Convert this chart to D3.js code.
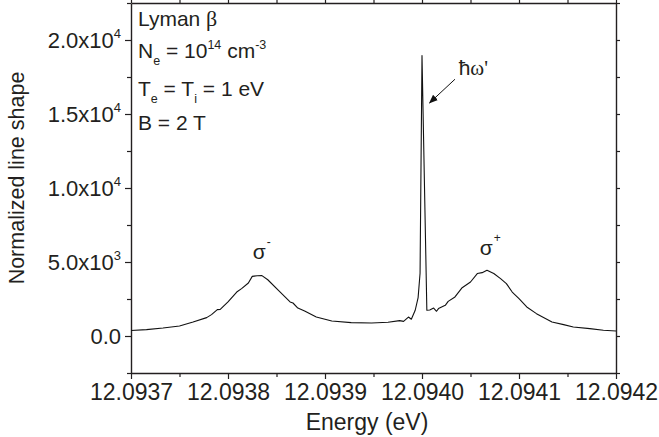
<!DOCTYPE html>
<html>
<head>
<meta charset="utf-8">
<script src="https://cdn.jsdelivr.net/npm/d3@7"></script>
<style>
  html, body { margin: 0; padding: 0; background: #fff; }
  svg { display: block; }
  text { font-family: "Liberation Sans", Arial, sans-serif; fill: #231f20; }
  .axis path, .axis line { stroke: #231f20; }
  .serif { font-family: "Liberation Serif", "Times New Roman", serif; }
</style>
</head>
<body>
<svg id="chart" width="659" height="437"></svg>
<script>
// Lyman beta line shape, Ne = 1e14 cm-3, B = 2 T

const energy = [
    12.093700, 12.093716, 12.093733, 12.093750, 12.093764, 12.093778, 12.093783,
    12.093789, 12.093792, 12.093800, 12.093809, 12.093814, 12.093821, 12.093825,
    12.093830, 12.093835, 12.093841, 12.093852, 12.093864, 12.093867, 12.093872,
    12.093879, 12.093891, 12.093907, 12.093927, 12.093948, 12.093965, 12.093977,
    12.093981, 12.093986, 12.093989, 12.093993, 12.093996, 12.093998, 12.094000,
    12.094005, 12.094008, 12.094012, 12.094015, 12.094017, 12.094024, 12.094027,
    12.094034, 12.094041, 12.094050, 12.094057, 12.094062, 12.094067, 12.094074,
    12.094081, 12.094087, 12.094093, 12.094100, 12.094108, 12.094118, 12.094134,
    12.094146, 12.094156, 12.094173, 12.094187, 12.094200
];
const lineShape = [
    370, 432, 541, 676, 946, 1243, 1446,
    1784, 1800, 2300, 2970, 3200, 3580, 4030,
    4070, 4080, 3800, 3090, 2300, 2230, 1890,
    1690, 1280, 1010, 905, 878, 926, 1040,
    990, 1280, 1130, 1740, 2600, 4240, 18950,
    1740, 1760, 1890, 1670, 1850, 2070, 2340,
    2640, 3240, 3650, 4220, 4280, 4440, 4220,
    3880, 3540, 2970, 2530, 1960, 1510, 946,
    770, 608, 500, 385, 338
];

const xMajor = [12.0937, 12.0938, 12.0939, 12.0940, 12.0941, 12.0942];
const xMinor = [12.09375, 12.09385, 12.09395, 12.09405, 12.09415];
const yMajor = [0, 5000, 10000, 15000, 20000];
const yMinor = [-2500, 2500, 7500, 12500, 17500, 22500];
const yMantissa = ["0.0", "5.0x10", "1.0x10", "1.5x10", "2.0x10"];
const yExponent = ["", "3", "4", "4", "4"];

const svg = d3.select("#chart");
const margin = { top: 3, right: 43, bottom: 64, left: 131 };
const W = 659, H = 437;
const ih = H - margin.top - margin.bottom;

const x = d3.scaleLinear().domain([12.0937, 12.0942]).range([margin.left, W - margin.right]);
const y = d3.scaleLinear().domain([-2500, 22500]).range([H - margin.bottom, margin.top]);

// ---- axes (all four sides, ticks outward) ----

function styleAxis(g) {
    g.attr("class", "axis");
    g.select(".domain").attr("stroke-width", 1.4);
    g.selectAll(".tick line").attr("stroke-width", 1.2);
}

svg.append("g")
    .attr("transform", `translate(0,${H - margin.bottom})`)
    .call(d3.axisBottom(x).tickValues(xMajor).tickSize(6).tickSizeOuter(0).tickPadding(5)
        .tickFormat(d3.format(".4f")))
    .call(styleAxis)
    .call(g => g.selectAll(".tick text").attr("font-size", 23).attr("fill", "#231f20")
        .attr("font-family", "Liberation Sans, Arial, sans-serif"));

svg.append("g")
    .attr("transform", `translate(0,${H - margin.bottom})`)
    .call(d3.axisBottom(x).tickValues(xMinor).tickSize(4).tickFormat(""))
    .call(styleAxis)
    .call(g => g.select(".domain").remove());

svg.append("g")
    .attr("transform", `translate(0,${margin.top})`)
    .call(d3.axisTop(x).tickValues(xMajor.concat(xMinor)).tickSize(4).tickSizeOuter(0).tickFormat(""))
    .call(styleAxis);

svg.append("g")
    .attr("transform", `translate(${margin.left},0)`)
    .call(d3.axisLeft(y).tickValues(yMajor).tickSize(6).tickSizeOuter(0).tickFormat(""))
    .call(styleAxis);

svg.append("g")
    .attr("transform", `translate(${margin.left},0)`)
    .call(d3.axisLeft(y).tickValues(yMinor).tickSize(4).tickFormat(""))
    .call(styleAxis)
    .call(g => g.select(".domain").remove());

svg.append("g")
    .attr("transform", `translate(${W - margin.right},0)`)
    .call(d3.axisRight(y).tickValues(yMajor.concat(yMinor)).tickSize(4).tickSizeOuter(0).tickFormat(""))
    .call(styleAxis);

// y tick labels with superscript exponents
const yLab = svg.append("g").selectAll("text")
    .data(yMajor).enter().append("text")
    .attr("x", margin.left - 10)
    .attr("y", d => y(d) + 8)
    .attr("text-anchor", "end")
    .attr("font-size", 22);
yLab.append("tspan").text((d, i) => yMantissa[i]);
yLab.append("tspan")
    .attr("font-size", 13)
    .attr("dy", -10)
    .text((d, i) => yExponent[i]);

// axis titles
svg.append("text")
    .attr("x", 367)
    .attr("y", 430)
    .attr("text-anchor", "middle")
    .attr("font-size", 23)
    .text("Energy (eV)");

svg.append("text")
    .attr("transform", `translate(24,178) rotate(-90)`)
    .attr("text-anchor", "middle")
    .attr("font-size", 21.5)
    .text("Normalized line shape");

// ---- curve ----

const pts = energy.map((e, i) => [e, lineShape[i]]);
svg.append("path")
    .datum(pts)
    .attr("fill", "none")
    .attr("stroke", "#111")
    .attr("stroke-width", 1.1)
    .attr("stroke-linejoin", "round")
    .attr("d", d3.line().x(d => x(d[0])).y(d => y(d[1])));

// ---- annotations ----

const info = svg.append("g").attr("font-size", 21);
const tx = margin.left + 7;

const l1 = info.append("text").attr("x", tx).attr("y", 26);
l1.append("tspan").text("Lyman ");
l1.append("tspan").attr("class", "serif").attr("font-size", 22).text("β");

const l2 = info.append("text").attr("x", tx).attr("y", 58);
l2.append("tspan").text("N");
l2.append("tspan").attr("font-size", 12.5).attr("dy", 7).text("e");
l2.append("tspan").attr("dy", -7).text(" = 10");
l2.append("tspan").attr("font-size", 12.5).attr("dy", -9).text("14");
l2.append("tspan").attr("dy", 9).text(" cm");
l2.append("tspan").attr("font-size", 12.5).attr("dy", -9).text("-3");

const l3 = info.append("text").attr("x", tx).attr("y", 96);
l3.append("tspan").text("T");
l3.append("tspan").attr("font-size", 12.5).attr("dy", 7).text("e");
l3.append("tspan").attr("dy", -7).text(" = T");
l3.append("tspan").attr("font-size", 12.5).attr("dy", 7).text("i");
l3.append("tspan").attr("dy", -7).text(" = 1 eV");

info.append("text").attr("x", tx).attr("y", 130).text("B = 2 T");

// sigma components
const sm = svg.append("text").attr("x", x(12.0938255)).attr("y", 259).attr("font-size", 21);
sm.append("tspan").text("σ");
sm.append("tspan").attr("font-size", 12).attr("dy", -13).attr("dx", 1).text("-");

const sp = svg.append("text").attr("x", x(12.0940595)).attr("y", 255).attr("font-size", 21);
sp.append("tspan").text("σ");
sp.append("tspan").attr("font-size", 12).attr("dy", -13).attr("dx", 1).text("+");

// hbar omega' and arrow
const hw = svg.append("text").attr("x", x(12.0940378)).attr("y", 75).attr("font-size", 21);
hw.append("tspan").text("ħ");
hw.append("tspan").attr("class", "serif").text("ω'");

svg.append("defs").append("marker")
    .attr("id", "arrow")
    .attr("viewBox", "0 0 10 10")
    .attr("refX", 9).attr("refY", 5)
    .attr("markerWidth", 9).attr("markerHeight", 9)
    .attr("markerUnits", "userSpaceOnUse")
    .attr("orient", "auto")
    .append("path").attr("d", "M0,1 L10,5 L0,9 Z").attr("fill", "#111");

svg.append("line")
    .attr("x1", x(12.0940340)).attr("y1", y(17350))
    .attr("x2", x(12.0940078)).attr("y2", y(15750))
    .attr("stroke", "#111").attr("stroke-width", 1)
    .attr("marker-end", "url(#arrow)");
</script>
</body>
</html>
